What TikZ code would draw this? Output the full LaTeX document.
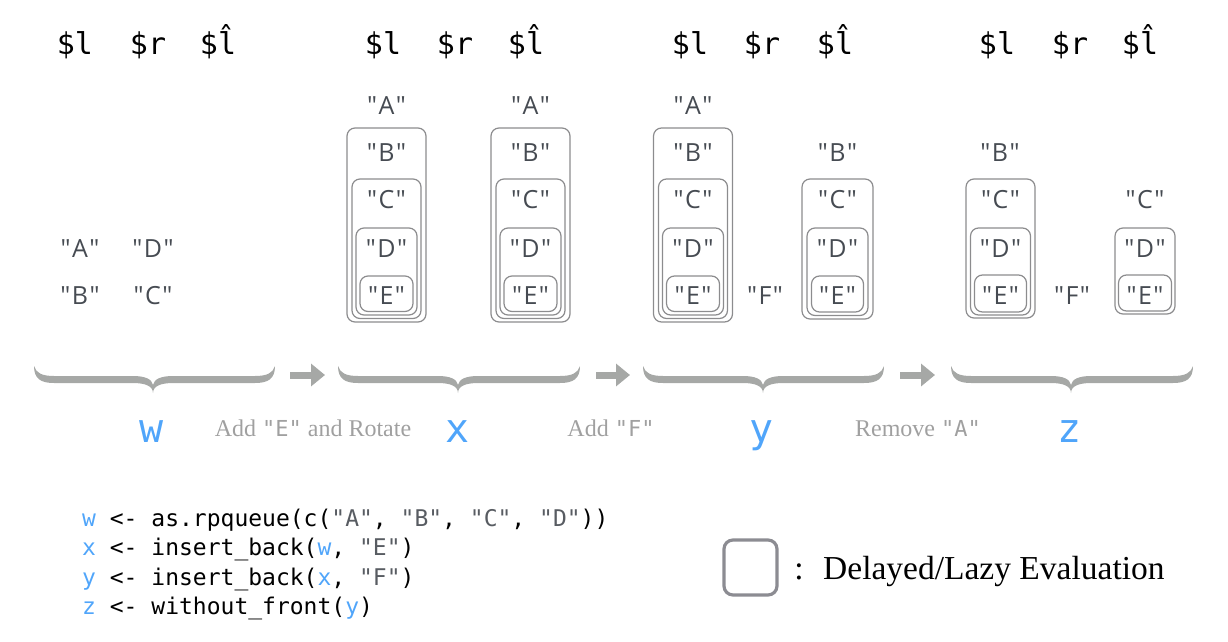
\documentclass[tikz,border=0pt]{standalone}
\usepackage{fontspec}
\setmainfont{Liberation Serif}
\setmonofont{DejaVu Sans Mono}
\newfontfamily\letf{Open Sans}[Ligatures=TeXOff]
\usetikzlibrary{arrows.meta}
\definecolor{qblue}{RGB}{80,165,250}
\definecolor{qgray}{RGB}{70,75,82}
\definecolor{boxgray}{RGB}{140,140,142}
\definecolor{bracegray}{RGB}{166,168,166}
\definecolor{labgray}{RGB}{160,160,160}
\definecolor{strgray}{RGB}{88,92,98}
\definecolor{leggray}{RGB}{140,140,146}
\newcommand\q[1]{"\kern1.5pt#1\kern1.5pt"}
\newcommand\lbox[4]{\draw[lazybox] ({#1-#2},#3) rectangle ({#1+#2},#4);}
\newcommand\gbrace[3]{%
 \fill[bracegray] (#1,366) .. controls (#1,379) and ({#1+7},383) .. ({#1+20},383)
 -- ({#2-20},383) .. controls ({#2-8},383) and (#2,386) .. (#2,393)
 .. controls (#2,386) and ({#2+8},383) .. ({#2+20},383)
 -- ({#3-20},383) .. controls ({#3-7},383) and (#3,379) .. (#3,366)
 .. controls ({#3-2},373) and ({#3-8},376) .. ({#3-20},376)
 -- ({#2+20},376) .. controls ({#2+8},376) and ({#2+1},379) .. (#2,385)
 .. controls ({#2-1},379) and ({#2-8},376) .. ({#2-20},376)
 -- ({#1+20},376) .. controls ({#1+8},376) and ({#1+2},373) .. (#1,366) -- cycle;}
\tikzset{
 hdr/.style={anchor=base, font=\ttfamily\fontsize{30}{36}\selectfont, text=black, inner sep=0pt},
 qlet/.style={anchor=base, font=\letf\fontsize{25}{29}\selectfont, text=qgray, inner sep=0pt},
 varlab/.style={anchor=base, font=\ttfamily\fontsize{40}{46}\selectfont, text=qblue, inner sep=0pt},
 steplab/.style={anchor=base, font=\fontsize{24}{28}\selectfont, text=labgray, inner sep=0pt},
 codeline/.style={anchor=base west, font=\ttfamily\fontsize{23}{28}\selectfont, text=black, inner sep=0pt},
 lazybox/.style={draw=boxgray, line width=1.2pt, rounded corners=8pt},
 legbox/.style={draw=leggray, line width=3.2pt, rounded corners=9pt},
 steparrow/.style={draw=bracegray, line width=7pt, -{Triangle[length=14pt,width=22pt]}},
 legtext/.style={anchor=base west, font=\fontsize{33.5}{40}\selectfont, text=black, inner sep=0pt},
}
\begin{document}
\begin{tikzpicture}[x=1pt,y=-1pt]
\useasboundingbox (0,0) rectangle (1228,642);
% headers
\foreach \g/\a/\b/\c in {1/75/148/218, 2/383/455/526, 3/690/762/835, 4/997/1070/1140} {
  \node[hdr] (h\g-l) at (\a,55) {\$l};
  \node[hdr] (h\g-r) at (\b,55) {\$r};
  \node[hdr] (h\g-h) at (\c,55) {\$l̂};
}
% lazy boxes
\foreach \cx in {386.5, 530.5, 693} {
  \lbox{\cx}{39.5}{128}{322}
  \lbox{\cx}{34.5}{179}{318.5}
  \lbox{\cx}{30.5}{228}{315}
  \lbox{\cx}{26.5}{276}{311.5}
}
\lbox{837.5}{35.5}{179}{319}
\lbox{837.5}{30.5}{228}{315.5}
\lbox{837.5}{26}{276}{312}
\lbox{1000.5}{34.5}{179}{318}
\lbox{1000.5}{30}{228}{315}
\lbox{1000.5}{26}{275}{312}
\lbox{1145}{30}{228}{314}
\lbox{1145}{26.5}{275}{311}
% w letters
\node[qlet] (wA) at (80,257) {\q{A}};
\node[qlet] (wD) at (153,257) {\q{D}};
\node[qlet] (wB) at (80,304) {\q{B}};
\node[qlet] (wC) at (153,304) {\q{C}};
% x and y letters
\foreach \n/\cx in {xl/386.5, xh/530.5, yl/693} {
  \node[qlet] (\n A) at (\cx,114) {\q{A}};
  \node[qlet] (\n B) at (\cx,161) {\q{B}};
  \node[qlet] (\n C) at (\cx,208) {\q{C}};
  \node[qlet] (\n D) at (\cx,257) {\q{D}};
  \node[qlet] (\n E) at (\cx,304) {\q{E}};
}
\node[qlet] (yrF) at (765,304) {\q{F}};
\node[qlet] (yhB) at (837.5,161) {\q{B}};
\node[qlet] (yhC) at (837.5,208) {\q{C}};
\node[qlet] (yhD) at (837.5,257) {\q{D}};
\node[qlet] (yhE) at (837.5,304) {\q{E}};
\node[qlet] (zlB) at (1000,161) {\q{B}};
\node[qlet] (zlC) at (1000.5,208) {\q{C}};
\node[qlet] (zlD) at (1000.5,257) {\q{D}};
\node[qlet] (zlE) at (1000.5,304) {\q{E}};
\node[qlet] (zrF) at (1072,304) {\q{F}};
\node[qlet] (zhC) at (1145,208) {\q{C}};
\node[qlet] (zhD) at (1145,257) {\q{D}};
\node[qlet] (zhE) at (1145,304) {\q{E}};
% braces
\gbrace{34}{153}{275}
\gbrace{338}{458}{580}
\gbrace{643}{763}{884}
\gbrace{951}{1071}{1193}
% arrows
\coordinate (a1s) at (290,375); \coordinate (a1e) at (325,375);
\coordinate (a2s) at (596,375); \coordinate (a2e) at (630,375);
\coordinate (a3s) at (900,375); \coordinate (a3e) at (935,375);
\draw[steparrow] (a1s) -- (a1e);
\draw[steparrow] (a2s) -- (a2e);
\draw[steparrow] (a3s) -- (a3e);
% variable labels
\node[varlab] (vw) at (152,442) {w};
\node[varlab] (vx) at (458,442) {x};
\node[varlab] (vy) at (762,442) {y};
\node[varlab] (vz) at (1070,442) {z};
% step labels
\node[steplab] (s1) at (313,436) {Add {\ttfamily\fontsize{22}{26}\selectfont"E"} and Rotate};
\node[steplab] (s2) at (611,436) {Add {\ttfamily\fontsize{22}{26}\selectfont"F"}};
\node[steplab] (s3) at (918,436) {Remove {\ttfamily\fontsize{22}{26}\selectfont"A"}};
% code
\node[codeline] (c1) at (82,526) {\textcolor{qblue}{w} <- as.rpqueue(c(\textcolor{strgray}{"A"}, \textcolor{strgray}{"B"}, \textcolor{strgray}{"C"}, \textcolor{strgray}{"D"}))};
\node[codeline] (c2) at (82,555.5) {\textcolor{qblue}{x} <- insert\_back(\textcolor{qblue}{w}, \textcolor{strgray}{"E"})};
\node[codeline] (c3) at (82,585) {\textcolor{qblue}{y} <- insert\_back(\textcolor{qblue}{x}, \textcolor{strgray}{"F"})};
\node[codeline] (c4) at (82,614.5) {\textcolor{qblue}{z} <- without\_front(\textcolor{qblue}{y})};
% legend
\draw[legbox] (724,540) rectangle (777,595);
\node[legtext, anchor=base] (colon) at (799,579) {:};
\node[legtext] (legt) at (823,579) {Delayed/Lazy Evaluation};
\end{tikzpicture}
\end{document}
